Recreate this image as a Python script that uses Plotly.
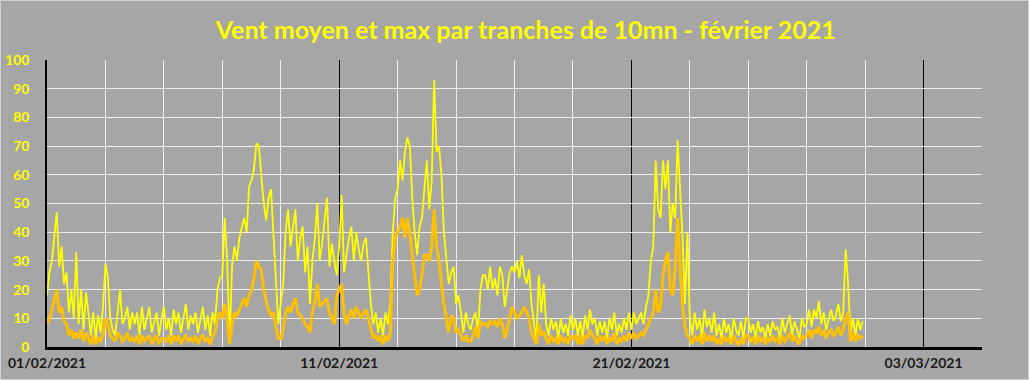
import pandas as pd
import plotly.graph_objects as go

# 2-hour readings, 01/02/2021 00:00 -> 28/02/2021 22:00 (12 values per day)
vent_max = [
    18, 26, 30, 40, 47, 28, 35, 22, 26, 12, 20, 10,
    33, 8, 20, 6, 19, 12, 4, 12, 3, 11, 5, 14,
    29, 24, 10, 6, 4, 12, 20, 8, 10, 14, 6, 12,
    8, 12, 4, 14, 6, 10, 14, 5, 9, 12, 4, 10,
    14, 6, 10, 4, 13, 8, 12, 5, 10, 15, 6, 11,
    8, 12, 5, 10, 14, 6, 11, 4, 12, 8, 20, 24,
    25, 45, 30, 2, 28, 35, 30, 38, 42, 45, 40, 56,
    58, 62, 71, 70, 60, 50, 44, 52, 55, 38, 22, 8,
    15, 22, 40, 48, 35, 42, 48, 30, 38, 42, 26, 35,
    15, 30, 38, 50, 30, 36, 45, 52, 28, 36, 30, 25,
    35, 53, 26, 32, 38, 42, 30, 40, 34, 30, 36, 38,
    25, 15, 8, 12, 5, 10, 4, 12, 8, 15, 40, 52,
    55, 65, 58, 68, 73, 70, 52, 40, 32, 42, 45, 55,
    65, 48, 58, 93, 68, 70, 60, 40, 30, 22, 26, 28,
    15, 18, 12, 5, 12, 8, 6, 10, 12, 5, 20, 25,
    25, 20, 28, 20, 24, 18, 28, 25, 14, 20, 26, 28,
    26, 30, 24, 32, 25, 22, 27, 15, 8, 2, 25, 12,
    22, 8, 4, 10, 6, 9, 3, 10, 5, 8, 4, 11,
    6, 10, 4, 9, 3, 11, 6, 13, 8, 10, 4, 9,
    5, 9, 3, 10, 6, 12, 4, 8, 5, 10, 6, 12,
    6, 12, 8, 10, 12, 8, 14, 18, 30, 35, 65, 48,
    45, 65, 55, 65, 40, 50, 45, 72, 55, 38, 15, 40,
    10, 4, 12, 6, 10, 3, 13, 7, 10, 5, 12, 4,
    8, 3, 10, 5, 8, 2, 10, 6, 4, 9, 3, 10,
    10, 5, 8, 3, 9, 5, 7, 3, 8, 4, 9, 6,
    7, 3, 10, 5, 8, 11, 4, 9, 6, 3, 10, 7,
    8, 13, 7, 13, 10, 16, 8, 12, 6, 10, 13, 9,
    11, 15, 9, 12, 34, 22, 5, 10, 4, 10, 6, 9,
]

vent_moyen = [
    8, 10, 13, 17, 20, 12, 14, 9, 8, 4, 6, 3,
    5, 3, 6, 2, 5, 3, 1, 4, 1, 3, 2, 4,
    10, 8, 4, 3, 2, 5, 4, 2, 3, 5, 2, 3,
    2, 4, 1, 4, 2, 3, 4, 1, 3, 4, 1, 3,
    3, 2, 4, 1, 4, 2, 4, 1, 3, 4, 2, 3,
    2, 4, 1, 3, 4, 2, 3, 1, 4, 5, 10, 12,
    10, 15, 10, 1, 8, 12, 11, 13, 15, 17, 14, 18,
    20, 24, 30, 28, 27, 20, 16, 13, 11, 12, 7, 3,
    3, 6, 12, 14, 12, 15, 17, 12, 11, 10, 8, 7,
    5, 12, 16, 22, 14, 15, 16, 17, 12, 10, 8, 18,
    20, 22, 12, 8, 11, 13, 10, 14, 12, 10, 12, 13,
    10, 6, 3, 4, 2, 4, 1, 4, 2, 5, 30, 38,
    40, 42, 45, 38, 45, 40, 32, 25, 18, 20, 25, 32,
    32, 30, 35, 48, 35, 30, 22, 15, 10, 5, 11, 10,
    5, 6, 4, 2, 4, 2, 2, 4, 7, 3, 9, 8,
    8, 7, 9, 8, 9, 7, 10, 8, 3, 6, 10, 14,
    12, 10, 11, 12, 14, 12, 10, 5, 3, 1, 8, 4,
    5, 3, 1, 4, 2, 3, 1, 4, 2, 3, 1, 4,
    3, 4, 1, 4, 1, 4, 3, 6, 4, 3, 1, 4,
    2, 4, 1, 3, 2, 5, 1, 3, 2, 4, 2, 5,
    3, 5, 3, 4, 5, 4, 6, 8, 10, 12, 20, 12,
    14, 25, 30, 33, 20, 18, 28, 45, 28, 15, 7, 4,
    3, 1, 4, 2, 4, 1, 5, 2, 4, 2, 4, 1,
    3, 1, 4, 2, 3, 1, 4, 2, 1, 3, 1, 4,
    4, 2, 3, 1, 4, 2, 3, 1, 3, 2, 4, 2,
    3, 1, 4, 2, 3, 5, 2, 4, 2, 1, 4, 3,
    4, 6, 3, 6, 5, 7, 4, 6, 3, 5, 6, 4,
    5, 7, 4, 6, 10, 12, 2, 5, 2, 4, 3, 4,
]

tick_dates = ["2021-02-01", "2021-02-11", "2021-02-21", "2021-03-03"]
tick_labels = ["01/02/2021", "11/02/2021", "21/02/2021", "03/03/2021"]
title_text = "Vent moyen et max par tranches de 10mn - février 2021"

times = pd.date_range("2021-02-01 00:00", periods=len(vent_max), freq="2h")

BG = "#A6A6A6"
GRID = "#EDEDED"
FONT = "Lato"

fig = go.Figure()
fig.add_trace(go.Scatter(x=times, y=vent_max, mode="lines", name="Vent max",
                         line=dict(color="#FFFF00", width=1.8)))
fig.add_trace(go.Scatter(x=times, y=vent_moyen, mode="lines", name="Vent moyen",
                         line=dict(color="#FFC000", width=3)))

fig.update_layout(
    width=1029, height=380,
    margin=dict(l=47, r=47, t=60, b=33, autoexpand=False),
    paper_bgcolor=BG, plot_bgcolor=BG,
    showlegend=False,
    title=dict(text=title_text, x=0.512, xanchor="center", xref="paper",
               y=0.921, yanchor="middle", yref="container",
               font=dict(family=FONT, size=25, color="#FFFF00", weight="bold")),
    xaxis=dict(
        type="date",
        range=["2021-02-01", "2021-03-05"],
        tickvals=tick_dates, ticktext=tick_labels,
        showgrid=True, gridcolor="#000000", gridwidth=1,
        minor=dict(dtick=2 * 86400000, tick0="2021-02-01", showgrid=True,
                   gridcolor=GRID, gridwidth=1),
        showline=True, linecolor="#000000", linewidth=3,
        ticks="", ticklabelstandoff=1, automargin=False,
        tickfont=dict(family=FONT, size=14, color="#1A1A1A", weight="bold"),
        zeroline=False, fixedrange=True,
    ),
    yaxis=dict(
        range=[0, 100], dtick=10,
        showgrid=True, gridcolor=GRID, gridwidth=1,
        showline=True, linecolor="#000000", linewidth=1.5,
        ticks="", ticklabelstandoff=13, automargin=False,
        tickfont=dict(family=FONT, size=14, color="#FFFF00", weight="bold"),
        zeroline=False, fixedrange=True,
    ),
)

# light outer frame of the chart area
fig.add_shape(type="rect", xref="paper", yref="paper",
              x0=-46.5 / 935, x1=1 + 46.5 / 935, y0=-32.5 / 287, y1=1 + 59.5 / 287,
              line=dict(color="#D0D0D0", width=1), layer="below")

fig.write_html("out.html", config={"displayModeBar": False},
               post_script="document.body.style.margin='0';document.body.style.overflow='hidden';")
